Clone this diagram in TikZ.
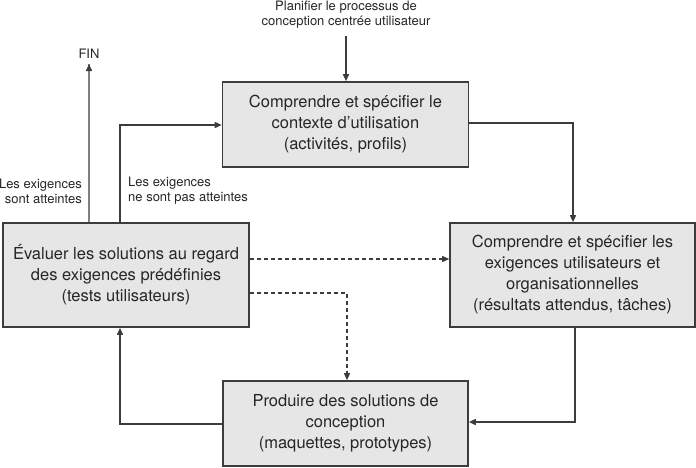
\documentclass[tikz,border=0pt]{standalone}
\usepackage{fontspec}
\setmainfont{TeX Gyre Heros}
\usetikzlibrary{arrows.meta}
\definecolor{boxfill}{HTML}{E6E6E6}
\definecolor{dk}{HTML}{3C3C3C}
\begin{document}
\begin{tikzpicture}[x=1pt,y=-1pt,
  procbox/.style={draw=dk,fill=boxfill,line width=1.6pt,inner sep=0pt,align=center,font=\fontsize{16.5}{21}\selectfont,text=black!85},
  conn/.style={draw=dk,line width=1.5pt,-{Triangle[length=7pt,width=6pt]}},
  dconn/.style={conn,dash pattern=on 4pt off 3pt,line width=1.3pt},
  lbl/.style={font=\fontsize{13}{15}\selectfont,text=black!85,inner sep=0pt}]
\useasboundingbox (0,0) rectangle (696,467);
\node[procbox,minimum width=246pt,minimum height=85pt] (A) at (345.5,124.5) {Comprendre et spécifier le\\contexte d’utilisation\\(activités, profils)};
\node[procbox,minimum width=245pt,minimum height=104pt] (B) at (572.5,275) {Comprendre et spécifier les\\exigences utilisateurs et\\organisationnelles\\(résultats attendus, tâches)};
\node[procbox,minimum width=246pt,minimum height=104pt] (C) at (126,275) {Évaluer les solutions au regard\\des exigences prédéfinies\\(tests utilisateurs)};
\node[procbox,minimum width=245pt,minimum height=85pt] (D) at (345.5,423.5) {Produire des solutions de\\conception\\(maquettes, prototypes)};
\node[lbl,align=center] (plan) at (346,14.5) {Planifier le processus de\\conception centrée utilisateur};
\node[lbl] (fin) at (89,54) {FIN};
\node[lbl,align=right,anchor=east] (ok) at (82,191) {Les exigences\\sont atteintes};
\node[lbl,align=left,anchor=west] (nok) at (128,191) {Les exigences\\ne sont pas atteintes};
\coordinate (finEnd) at (89,64);
\draw[conn] (plan.south -| 346,0) ++(0,8) -- (A.north -| 346,0);
\draw[conn] (A.east |- 0,123) -| (B.north -| 573,0);
\draw[conn] (B.south -| 575,0) |- (D.east |- 0,422);
\draw[conn] (D.west |- 0,424) -| (C.south -| 120,0);
\draw[conn] (C.north -| 120,0) |- (A.west |- 0,125);
\draw[draw=gray,line width=1.5pt] (C.north -| 89,0) -- (finEnd);
\draw[conn] (89,70) -- (finEnd);
\draw[dconn] (C.east |- 0,259) -- (B.west |- 0,259);
\draw[dconn] (C.east |- 0,293) -| (D.north -| 347,0);
\end{tikzpicture}
\end{document}
